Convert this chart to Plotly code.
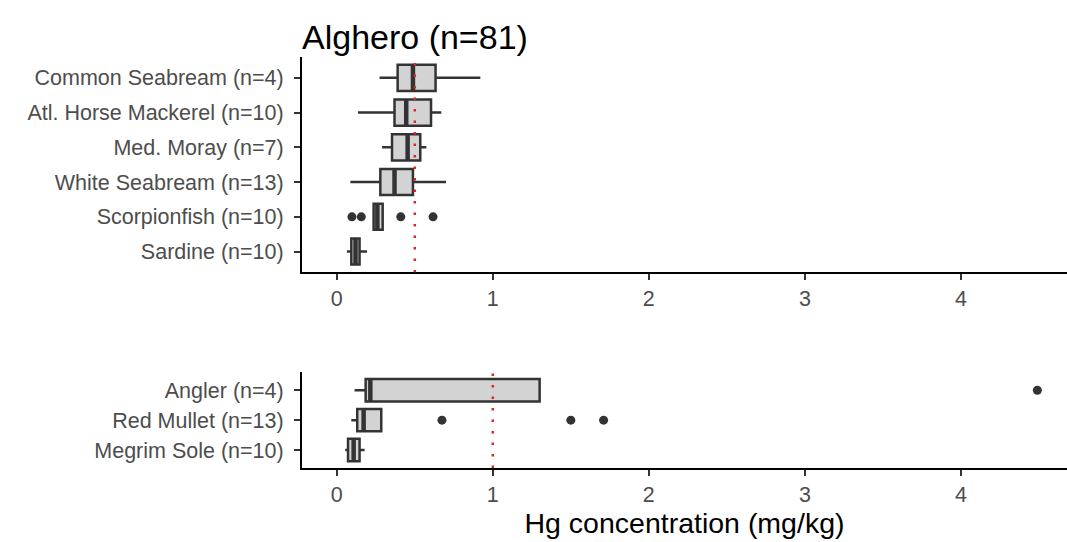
import plotly.graph_objects as go
from plotly.subplots import make_subplots

# ---- data (top panel) ----
top_species = ["Sardine (n=10)", "Scorpionfish (n=10)", "White Seabream (n=13)",
               "Med. Moray (n=7)", "Atl. Horse Mackerel (n=10)", "Common Seabream (n=4)"]
top_low = [0.065, 0.230, 0.087, 0.290, 0.136, 0.274]
top_q1 = [0.093, 0.236, 0.279, 0.354, 0.370, 0.390]
top_med = [0.120, 0.260, 0.370, 0.454, 0.445, 0.488]
top_q3 = [0.146, 0.294, 0.488, 0.535, 0.604, 0.633]
top_high = [0.194, 0.300, 0.700, 0.574, 0.670, 0.920]
top_out_species = ["Scorpionfish (n=10)"] * 4
top_out_vals = [0.097, 0.157, 0.410, 0.617]
top_ref = 0.5

# ---- data (bottom panel) ----
bot_species = ["Megrim Sole (n=10)", "Red Mullet (n=13)", "Angler (n=4)"]
bot_low = [0.054, 0.093, 0.114]
bot_q1 = [0.072, 0.131, 0.185]
bot_med = [0.108, 0.172, 0.215]
bot_q3 = [0.146, 0.285, 1.300]
bot_high = [0.178, 0.285, 1.300]
bot_out_species = ["Red Mullet (n=13)", "Red Mullet (n=13)", "Red Mullet (n=13)", "Angler (n=4)"]
bot_out_vals = [0.674, 1.50, 1.71, 4.49]
bot_ref = 1.0

title_text = "Alghero (n=81)"
x_title = "Hg concentration (mg/kg)"
x_ticks = [0, 1, 2, 3, 4]

FONT = "Liberation Sans, Arial, sans-serif"
BOX_FILL = "#d3d3d3"
LINE = "#333333"
REF_RED = "#d8262b"
H = 542
t_px, bottom_px = 57, 468.5
plot_h = bottom_px - t_px
top_dom = [(bottom_px - 272.7) / plot_h, 1.0]
bot_dom = [0.0, (bottom_px - 372.7) / plot_h]

fig = make_subplots(rows=2, cols=1)

def add_panel(row, species, low, q1, med, q3, high, out_sp, out_v):
    fig.add_trace(go.Box(
        y=species, q1=q1, median=med, q3=q3, lowerfence=low, upperfence=high,
        orientation="h", fillcolor=BOX_FILL, line=dict(color=LINE, width=2.5),
        whiskerwidth=0, width=0.75, boxpoints=False, showlegend=False,
        hoverinfo="skip"), row=row, col=1)
    fig.add_trace(go.Scatter(
        x=out_v, y=out_sp, mode="markers",
        marker=dict(color=LINE, size=9), showlegend=False, hoverinfo="skip"),
        row=row, col=1)
    yref = "y" if row == 1 else "y2"
    xref = "x" if row == 1 else "x2"
    for i, m in enumerate(med):
        fig.add_shape(type="line", x0=m, x1=m, y0=i - 0.375, y1=i + 0.375,
                      xref=xref, yref=yref, line=dict(color=LINE, width=4.5))

add_panel(1, top_species, top_low, top_q1, top_med, top_q3, top_high, top_out_species, top_out_vals)
add_panel(2, bot_species, bot_low, bot_q1, bot_med, bot_q3, bot_high, bot_out_species, bot_out_vals)

fig.add_shape(type="line", x0=top_ref, x1=top_ref, y0=-0.6, y1=len(top_species) - 0.4,
              xref="x", yref="y", line=dict(color=REF_RED, width=2.5, dash="2.5px,9px"))
fig.add_shape(type="line", x0=bot_ref, x1=bot_ref, y0=-0.6, y1=len(bot_species) - 0.4,
              xref="x2", yref="y2", line=dict(color=REF_RED, width=2.5, dash="2.5px,9px"))

xcommon = dict(range=[-0.223, 4.68], showline=True, linecolor="black", linewidth=2,
               ticks="outside", ticklen=6, tickwidth=2, tickcolor=LINE,
               tickvals=x_ticks, showgrid=False, zeroline=False,
               tickfont=dict(family=FONT, size=21.5, color="#4d4d4d"))
ycommon = dict(type="category", showline=True, linecolor="black", linewidth=2,
               ticks="outside", ticklen=6, tickwidth=2, tickcolor=LINE,
               showgrid=False, zeroline=False, ticklabelstandoff=6,
               tickfont=dict(family=FONT, size=21.5, color="#4d4d4d"))

fig.update_layout(
    width=1067, height=H,
    margin=dict(l=302, r=0, t=t_px, b=H - bottom_px),
    plot_bgcolor="white", paper_bgcolor="white",
    title=dict(text=title_text, x=302 / 1067, xanchor="left", xref="container",
               y=1 - 37 / H, yanchor="middle", yref="container",
               font=dict(family=FONT, size=34, color="black")),
    xaxis=dict(**xcommon, anchor="y"),
    xaxis2=dict(**xcommon, anchor="y2",
                title=dict(text=x_title, standoff=4,
                           font=dict(family=FONT, size=28.5, color="black"))),
    yaxis=dict(**ycommon, domain=top_dom, range=[-0.6, len(top_species) - 0.4],
               categoryorder="array", categoryarray=top_species),
    yaxis2=dict(**ycommon, domain=bot_dom, range=[-0.6, len(bot_species) - 0.4],
                categoryorder="array", categoryarray=bot_species),
)

fig.write_html("out.html")
